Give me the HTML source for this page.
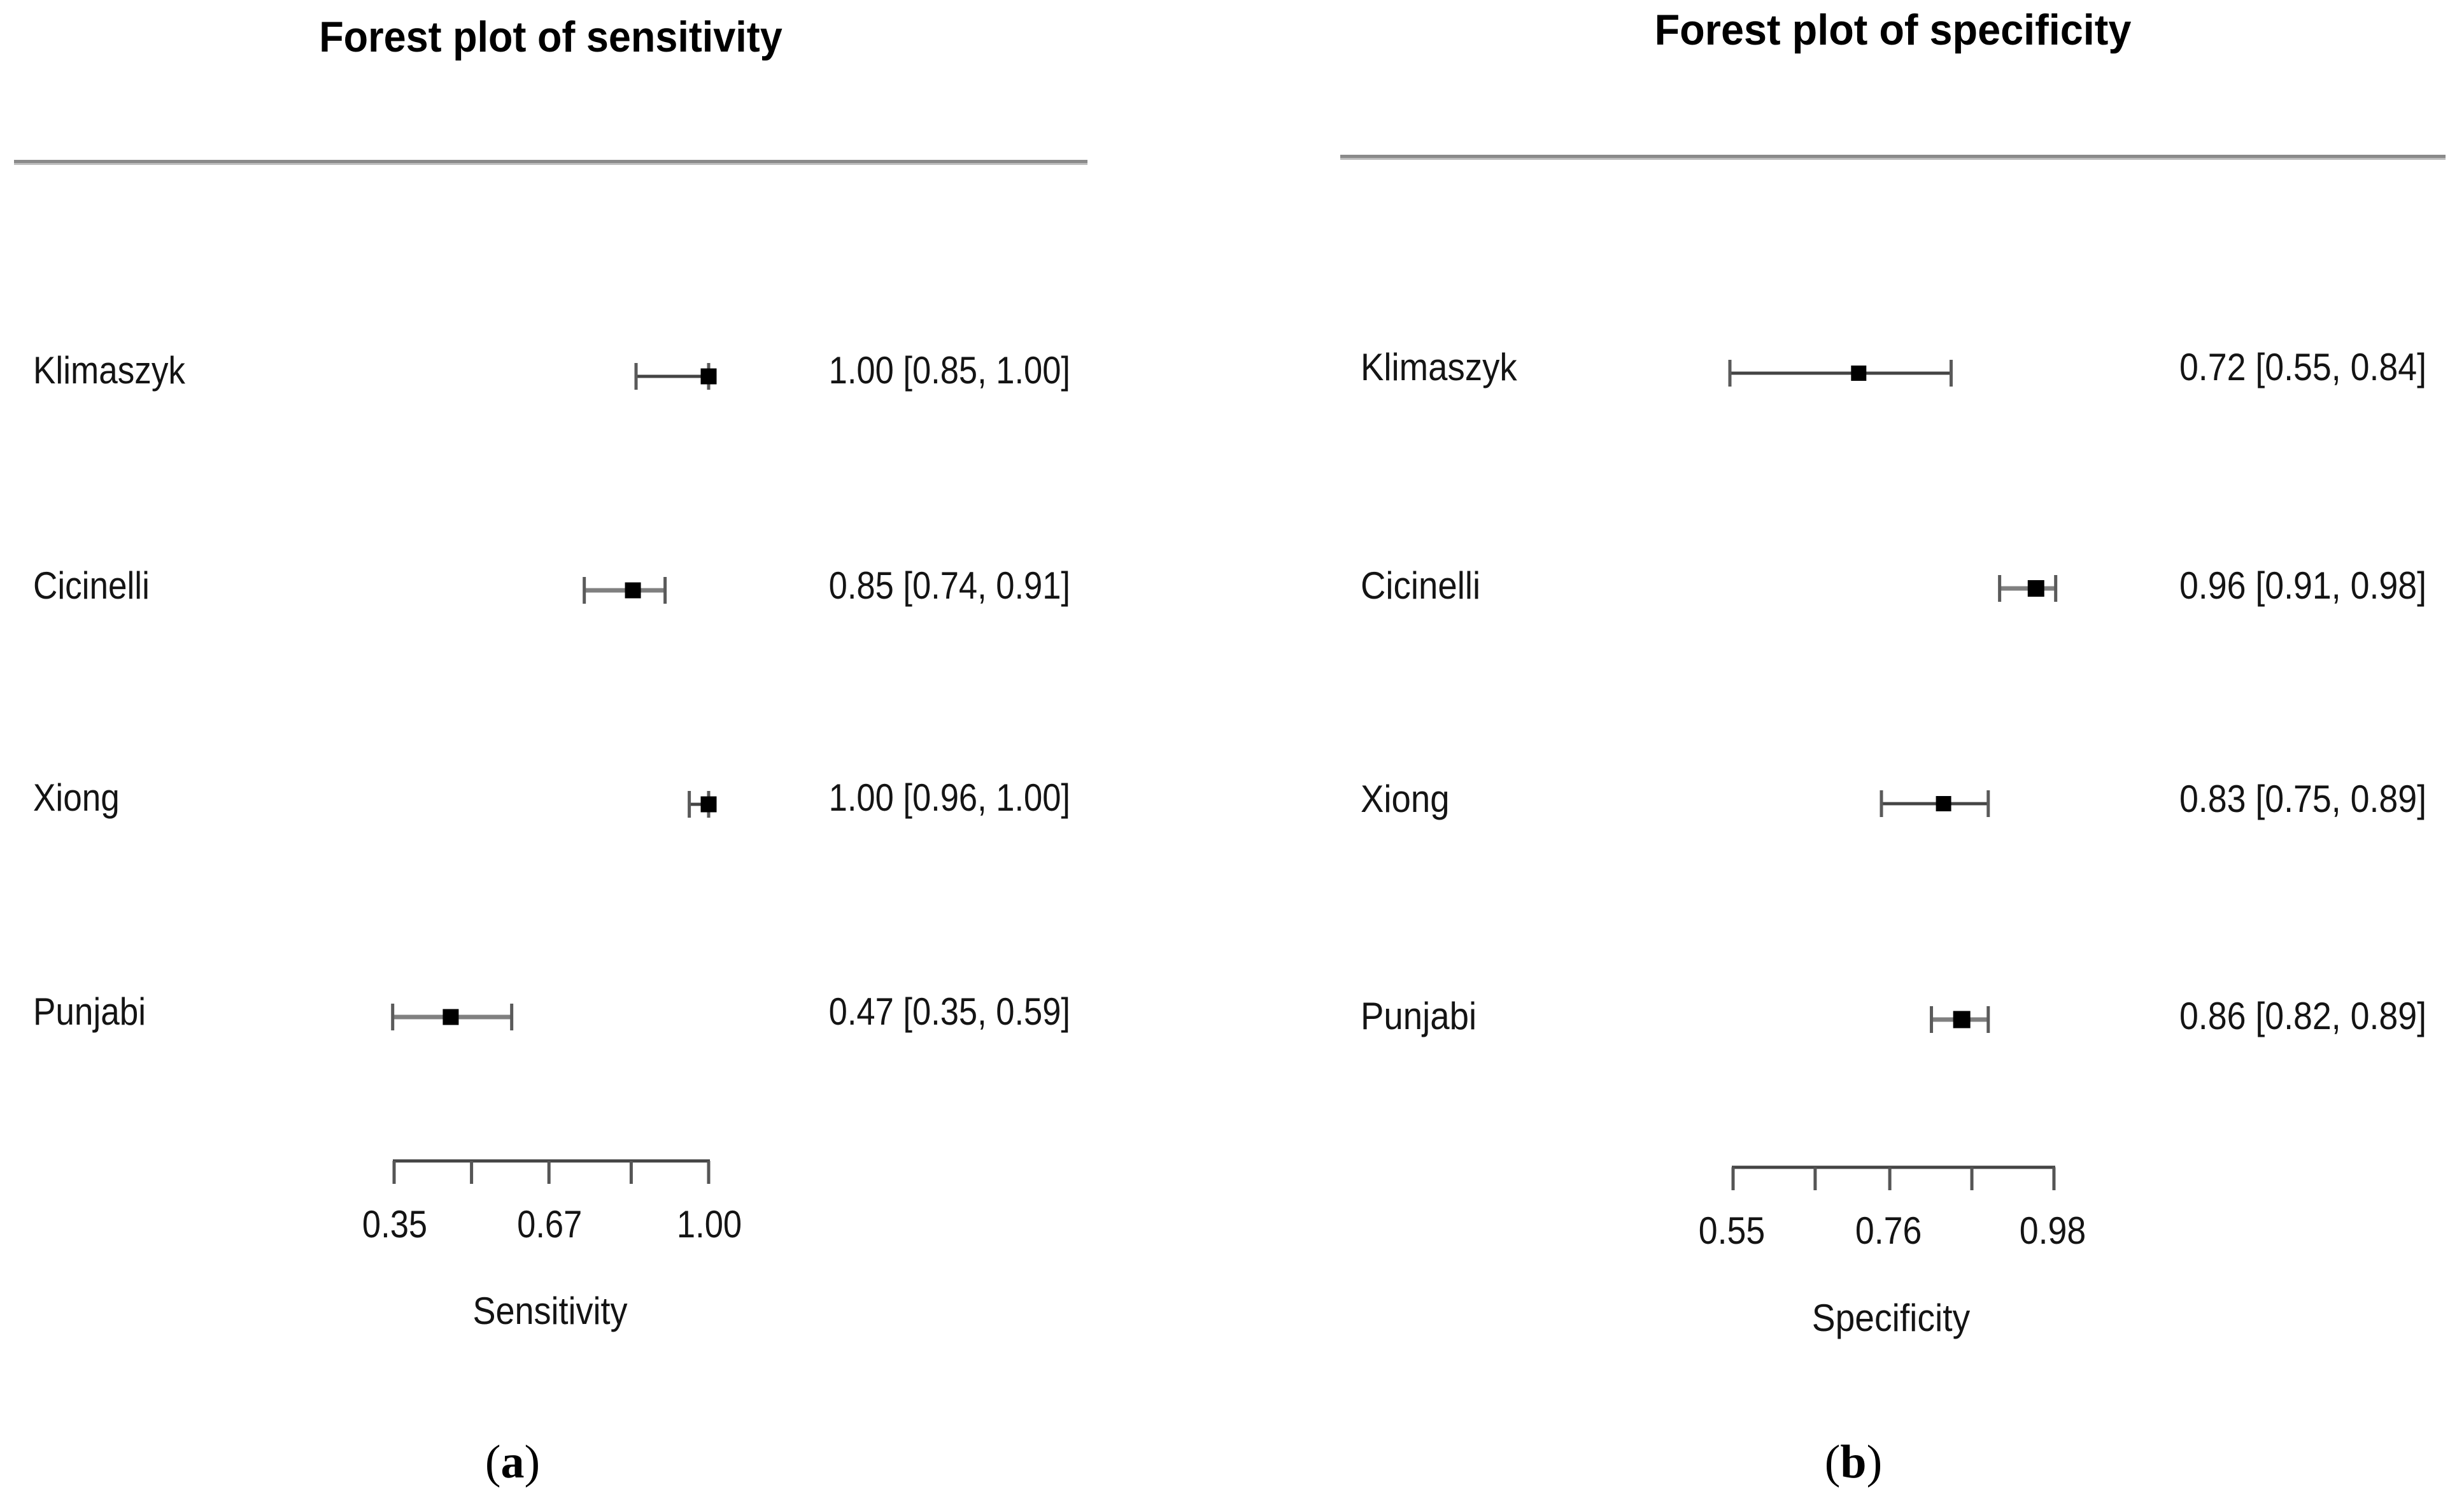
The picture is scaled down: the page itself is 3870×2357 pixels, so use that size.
<!DOCTYPE html>
<html lang="en">
<head>
<meta charset="utf-8">
<title>Forest plots of sensitivity and specificity</title>
<style>
  html, body { margin: 0; padding: 0; background: #fff; }
  svg { display: block; }
  text { font-family: "Liberation Sans", sans-serif; fill: #141414; }
  .caption { font-family: "Liberation Serif", serif; fill: #000; }
</style>
</head>
<body>
<svg id="figure" xmlns="http://www.w3.org/2000/svg" width="3870" height="2357" viewBox="0 0 3870 2357"></svg>
<script>
const studies = ["Klimaszyk", "Cicinelli", "Xiong", "Punjabi"];

const sensitivityEstimates = [1.00, 0.8435, 1.00, 0.467];
const sensitivityLower = [0.85, 0.743, 0.96, 0.347];
const sensitivityUpper = [1.00, 0.91, 1.00, 0.593];
const sensitivityPrinted = ["1.00 [0.85, 1.00]", "0.85 [0.74, 0.91]", "1.00 [0.96, 1.00]", "0.47 [0.35, 0.59]"];
const sensitivityTicks = [0.35, 0.51, 0.67, 0.84, 1.00];
const sensitivityTickLabels = ["0.35", "", "0.67", "", "1.00"];

const specificityEstimates = [0.72, 0.954, 0.832, 0.856];
const specificityLower = [0.55, 0.906, 0.75, 0.816];
const specificityUpper = [0.842, 0.98, 0.891, 0.891];
const specificityPrinted = ["0.72 [0.55, 0.84]", "0.96 [0.91, 0.98]", "0.83 [0.75, 0.89]", "0.86 [0.82, 0.89]"];
const specificityTicks = [0.55, 0.66, 0.76, 0.87, 0.98];
const specificityTickLabels = ["0.55", "", "0.76", "", "0.98"];

const NS = "http://www.w3.org/2000/svg";
const svg = document.getElementById("figure");

function make(tag, attrs, parent) {
  const el = document.createElementNS(NS, tag);
  for (const k in attrs) el.setAttribute(k, attrs[k]);
  parent.appendChild(el);
  return el;
}

function putText(parent, str, x, y, size, sx, anchor, weight) {
  const el = make("text", {
    transform: "translate(" + x + " " + y + ") scale(" + sx + " 1)",
    "font-size": size,
    "text-anchor": anchor,
    "font-weight": weight
  }, parent);
  el.textContent = str;
  return el;
}

function drawPanel(p) {
  const g = make("g", {}, svg);
  
  

  const title = putText(g, p.title, p.titleX, p.titleY, 68, p.titleSx, "middle", "bold");
  title.setAttribute('style', 'fill:#000');
  
  

  const rule = make("rect", { x: p.ruleX1, y: p.ruleY, width: p.ruleX2 - p.ruleX1, height: 5, fill: "#8a8a8a" }, g);
  
  

  const ruleSoft = make("rect", { x: p.ruleX1, y: p.ruleY + 5, width: p.ruleX2 - p.ruleX1, height: 3, fill: "#bdbdbd" }, g);
  
  

  studies.forEach(function (name, i) {
    const row = make("g", {}, g);
    
    

    const label = putText(row, name, p.labelX, p.labelY[i], 60, p.labelSx, "start", "normal");
    
    

    const value = putText(row, p.printed[i], p.valueX, p.labelY[i], 60, p.textSx, "end", "normal");
    
    

    const y = p.markY[i];
    const soft = i === 1 || i === 3;
    const colour = soft ? "#808080" : "#444";
    const w = soft ? 7 : 5;
    const x1 = p.pointX(p.lo[i]), x2 = p.pointX(p.hi[i]), xm = p.pointX(p.est[i]);

    const line = make("line", { x1: x1, x2: x2, y1: y, y2: y, stroke: colour, "stroke-width": w }, row);
    
    

    [x1, x2].forEach(function (cx) {
      const cap = make("line", { x1: cx, x2: cx, y1: y - 21, y2: y + 21, stroke: "#5a5a5a", "stroke-width": 5 }, row);
      
      
    });

    const s = p.markSize[i];
    const mark = make("rect", { x: xm - s / 2, y: y - s / 2, width: s, height: s, fill: "#000" }, row);
    
    
  });

  const axis = make("g", {}, g);
  
  

  const first = p.axisX(p.ticks[0]);
  const last = p.axisX(p.ticks[p.ticks.length - 1]);
  const axisLine = make("line", { x1: first - 2, x2: last + 2, y1: p.axisY, y2: p.axisY, stroke: "#444", "stroke-width": 5 }, axis);
  
  

  p.ticks.forEach(function (t, i) {
    const x = p.axisX(t);
    const tick = make("line", { x1: x, x2: x, y1: p.axisY, y2: p.axisY + 36, stroke: "#555", "stroke-width": 5 }, axis);
    
    
    if (p.tickLabels[i]) {
      const tl = putText(axis, p.tickLabels[i], x + p.tickLabelDx, p.axisY + 120, 60, p.textSx, "middle", "normal");
      
      
    }
  });

  const axisTitle = putText(axis, p.axisTitle, p.axisTitleX, p.axisTitleY, 60, p.axisTitleSx, "middle", "normal");
  
  

  const cap = make("text", { class: "caption", x: p.captionX, y: 2320, "font-size": 74, "text-anchor": "middle" }, g);
  
  
  const open = make("tspan", {}, cap);
  open.textContent = "(";
  const letter = make("tspan", { "font-weight": "bold" }, cap);
  letter.textContent = p.captionLetter;
  const close = make("tspan", {}, cap);
  close.textContent = ")";
}

drawPanel({
  key: "sensitivity",
  title: "Forest plot of sensitivity",
  titleX: 865, titleY: 81, titleSx: 0.926,
  ruleX1: 22, ruleX2: 1708, ruleY: 251,
  labelX: 52, labelSx: 0.885, valueX: 1681, textSx: 0.875,
  labelY: [602, 940, 1273, 1609],
  markY: [591, 927, 1263, 1597],
  markSize: [25, 25, 25, 25],
  est: sensitivityEstimates, lo: sensitivityLower, hi: sensitivityUpper,
  printed: sensitivityPrinted,
  pointX: function (v) { return 619 + 760 * (v - 0.35); },
  axisX: function (v) { return 619 + 760 * (v - 0.35); },
  axisY: 1823,
  ticks: sensitivityTicks, tickLabels: sensitivityTickLabels, tickLabelDx: 1,
  axisTitle: "Sensitivity", axisTitleX: 864, axisTitleY: 2079, axisTitleSx: 0.9,
  captionX: 805, captionLetter: "a"
});

drawPanel({
  key: "specificity",
  title: "Forest plot of specificity",
  titleX: 2973, titleY: 70, titleSx: 0.953,
  ruleX1: 2105, ruleX2: 3841, ruleY: 243,
  labelX: 2137, labelSx: 0.91, valueX: 3811, textSx: 0.895,
  labelY: [597, 940, 1275, 1616],
  markY: [586, 924, 1262, 1601],
  markSize: [24, 26, 24, 27],
  est: specificityEstimates, lo: specificityLower, hi: specificityUpper,
  printed: specificityPrinted,
  pointX: function (v) { return 2717 + 1190 * (v - 0.55); },
  axisX: function (v) { return 2722 + 1172 * (v - 0.55); },
  axisY: 1833,
  ticks: specificityTicks, tickLabels: specificityTickLabels, tickLabelDx: -2,
  axisTitle: "Specificity", axisTitleX: 2970, axisTitleY: 2090, axisTitleSx: 0.92,
  captionX: 2911, captionLetter: "b"
});
</script>
</body>
</html>
